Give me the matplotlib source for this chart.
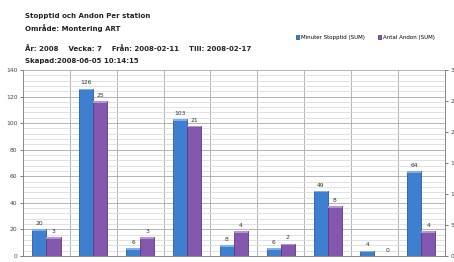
import numpy as np
import matplotlib.pyplot as plt
from matplotlib.ticker import MultipleLocator

# data
stations = ["1", "2", "3", "4", "5", "6", "7", "8", "9"]
minuter_stopptid = [20, 126, 6, 103, 8, 6, 49, 4, 64]
antal_andon = [3, 25, 3, 21, 4, 2, 8, 0, 4]

blue = "#3f7fcf"
blue_edge = "#2a5c9c"
purple = "#8457ae"
purple_edge = "#5e3a80"

fig = plt.figure(figsize=(4.54, 2.62), dpi=100)
ax = fig.add_axes([0.0507, 0.023, 0.929, 0.710])
ax2 = ax.twinx()

x = np.arange(len(stations))
w = 0.30

b1 = ax.bar(x - w / 2, minuter_stopptid, w, color=blue, edgecolor=blue_edge,
            linewidth=0.6, zorder=3)
b2 = ax2.bar(x + w / 2, antal_andon, w, color=purple, edgecolor=purple_edge,
             linewidth=0.6, zorder=3)

# lighter top caps to mimic the 3D look
ax.bar(x - w / 2, [1.2 if v > 0 else 0 for v in minuter_stopptid], w,
       bottom=[v - 1.2 for v in minuter_stopptid], color="#7fb0ea", linewidth=0, zorder=4)
ax2.bar(x + w / 2, [0.25 if v > 0 else 0 for v in antal_andon], w,
        bottom=[v - 0.25 for v in antal_andon], color="#b594d6", linewidth=0, zorder=4)

for xi, v in zip(x, minuter_stopptid):
    ax.text(xi - w / 2, v + 2.5, str(v), ha="center", va="bottom", fontsize=4.3, color="#333333")
for xi, v in zip(x, antal_andon):
    ax2.text(xi + w / 2 + (0.12 if v == 0 else 0), v + 0.5, str(v), ha="center", va="bottom",
             fontsize=4.3, color="#333333")

ax.set_xlim(-0.5, len(stations) - 0.5)
ax.set_ylim(0, 140)
ax2.set_ylim(0, 30)
ax.yaxis.set_major_locator(MultipleLocator(20))
ax.yaxis.set_minor_locator(MultipleLocator(4))
ax2.yaxis.set_major_locator(MultipleLocator(5))
ax.set_xticks([])

ax.grid(which="major", axis="y", color="#a8a8a8", linewidth=0.6, zorder=0)
ax.grid(which="minor", axis="y", color="#dcdcdc", linewidth=0.6, zorder=0)
for sep in np.arange(0.5, len(stations) - 0.5, 1):
    ax.axvline(sep, color="#a8a8a8", linewidth=0.6, zorder=0)
ax.set_axisbelow(True)

ax.tick_params(axis="y", which="major", labelsize=4.3, length=2, width=0.5, colors="#444444", pad=2)
ax.tick_params(axis="y", which="minor", length=0)
ax2.tick_params(axis="y", labelsize=4.3, length=2, width=0.5, colors="#444444", pad=2)
for a in (ax, ax2):
    a.spines["top"].set_visible(False)
    for s in ("left", "right", "bottom"):
        a.spines[s].set_color("#888888")
        a.spines[s].set_linewidth(0.6)

# header texts
hdr = dict(fontsize=5.0, fontweight="bold", color="#222222", va="center")
fig.text(0.055, 1 - 16 / 262, "Stopptid och Andon Per station", **hdr)
fig.text(0.055, 1 - 28 / 262, "Område: Montering ART", **hdr)
fig.text(0.055, 1 - 48.5 / 262, "År: 2008    Vecka: 7    Från: 2008-02-11    Till: 2008-02-17", **hdr)
fig.text(0.055, 1 - 61 / 262, "Skapad:2008-06-05 10:14:15", **hdr)

# legend
fig.legend([b1, b2], ["Minuter Stopptid (SUM)", "Antal Andon (SUM)"], loc="center",
           bbox_to_anchor=(0.805, 0.858), ncol=2, fontsize=4, frameon=False,
           handlelength=0.6, handleheight=0.6, handletextpad=0.4, columnspacing=2.2)

fig.savefig("out.png", dpi=100)
